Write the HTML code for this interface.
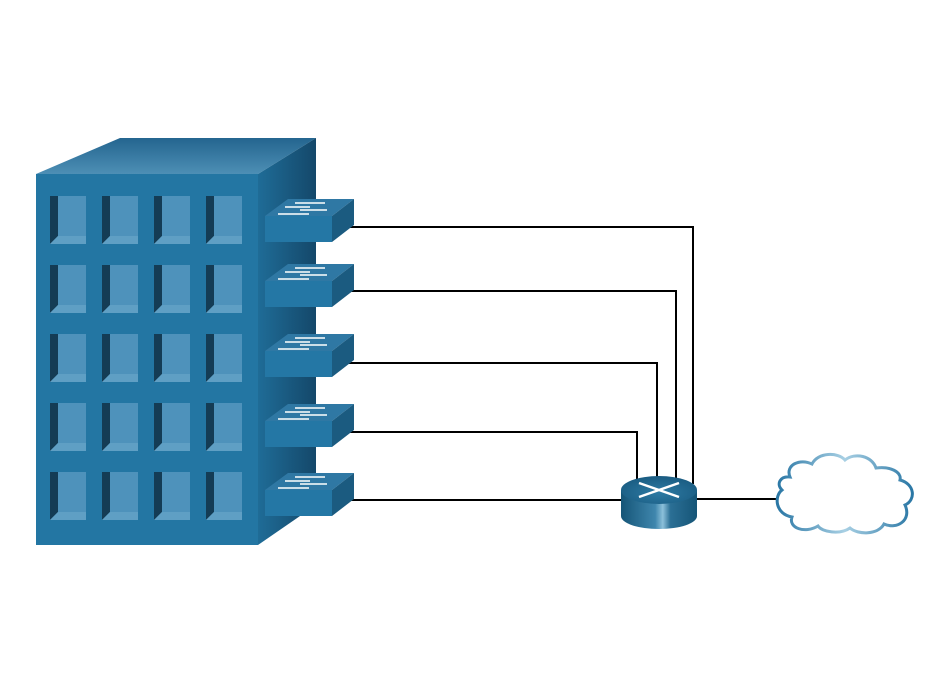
<!DOCTYPE html>
<html><head><style>body{margin:0;background:#fff}svg{display:block}</style></head><body>
<svg width="944" height="681" viewBox="0 0 944 681" xmlns="http://www.w3.org/2000/svg">
<defs>
<linearGradient id="top" x1="0" y1="0" x2="0" y2="1"><stop offset="0" stop-color="#24658f"/><stop offset="1" stop-color="#4d8fb5"/></linearGradient>
<linearGradient id="side" x1="0" y1="0" x2="1" y2="0"><stop offset="0" stop-color="#1f6c97"/><stop offset="1" stop-color="#14486a"/></linearGradient>
<linearGradient id="rb" x1="0" y1="0" x2="1" y2="0"><stop offset="0" stop-color="#155577"/><stop offset="0.45" stop-color="#3f86ad"/><stop offset="0.55" stop-color="#8cc0da"/><stop offset="0.65" stop-color="#2b6f95"/><stop offset="1" stop-color="#155577"/></linearGradient>
<radialGradient id="rt" cx="0.5" cy="0.6" r="0.6"><stop offset="0" stop-color="#2d7aa3"/><stop offset="1" stop-color="#1a5c82"/></radialGradient>
<linearGradient id="cl" x1="0" y1="0" x2="1" y2="0"><stop offset="0" stop-color="#2a77a5"/><stop offset="0.5" stop-color="#a8d0e4"/><stop offset="1" stop-color="#2a77a5"/></linearGradient>
<g id="win"><rect x="0" y="0" width="36" height="48" fill="#4e92bb"/><polygon points="0,0 8,0 8,40 0,48" fill="#143c55"/><polygon points="0,48 8,40 36,40 36,48" fill="#5f9fc4"/></g>
<g id="sw"><polygon points="0,17 23,0 89,0 67,17" fill="#2f78a4"/><polygon points="67,17 89,0 89,26 67,43" fill="#1b5b80"/><rect x="0" y="17" width="67" height="26" fill="#2477a5"/>
<g stroke="#fff" stroke-width="1.5"><line x1="30" y1="4" x2="60" y2="4"/><line x1="20" y1="8" x2="45" y2="8"/><line x1="35" y1="11" x2="62" y2="11"/><line x1="13" y1="15" x2="44" y2="15"/></g></g>
</defs>
<polygon points="36,174 120,138 316,138 258,174" fill="url(#top)"/>
<polygon points="258,174 316,138 316,505 258,545" fill="url(#side)"/>
<rect x="36" y="174" width="222" height="371" fill="#2376a3"/>
<g>
<use href="#win" x="50" y="196"/><use href="#win" x="102" y="196"/><use href="#win" x="154" y="196"/><use href="#win" x="206" y="196"/>
<use href="#win" x="50" y="265"/><use href="#win" x="102" y="265"/><use href="#win" x="154" y="265"/><use href="#win" x="206" y="265"/>
<use href="#win" x="50" y="334"/><use href="#win" x="102" y="334"/><use href="#win" x="154" y="334"/><use href="#win" x="206" y="334"/>
<use href="#win" x="50" y="403"/><use href="#win" x="102" y="403"/><use href="#win" x="154" y="403"/><use href="#win" x="206" y="403"/>
<use href="#win" x="50" y="472"/><use href="#win" x="102" y="472"/><use href="#win" x="154" y="472"/><use href="#win" x="206" y="472"/>
</g>
<g fill="none" stroke="#000" stroke-width="2">
<polyline points="346,227 693,227 693,484"/>
<polyline points="346,291 676,291 676,480"/>
<polyline points="346,363 657,363 657,480"/>
<polyline points="346,432 637,432 637,482"/>
<line x1="346" y1="500" x2="625" y2="500"/>
<line x1="695" y1="499" x2="777" y2="499"/>
</g>
<use href="#sw" x="265" y="199"/><use href="#sw" x="265" y="264"/><use href="#sw" x="265" y="334"/><use href="#sw" x="265" y="404"/><use href="#sw" x="265" y="473"/>
<path d="M621,490 L621,516 A38,13 0 0 0 697,516 L697,490 Z" fill="url(#rb)"/>
<ellipse cx="659" cy="490" rx="38" ry="14" fill="url(#rt)"/>
<g stroke="#fff" stroke-width="2.5"><line x1="639" y1="483" x2="679" y2="497"/><line x1="639" y1="497" x2="679" y2="483"/></g>
<path d="M790,477 C785,465 800,458 812,464 C818,452 838,452 845,460 C855,452 872,456 876,468 C890,466 902,472 900,480 C915,484 916,500 905,505 C912,520 897,530 884,524 C878,535 858,535 850,528 C840,535 822,532 818,526 C805,534 788,528 792,517 C775,514 774,496 782,490 C776,484 780,476 790,477 Z" fill="#fff" stroke="url(#cl)" stroke-width="3"/>
</svg>
</body></html>
